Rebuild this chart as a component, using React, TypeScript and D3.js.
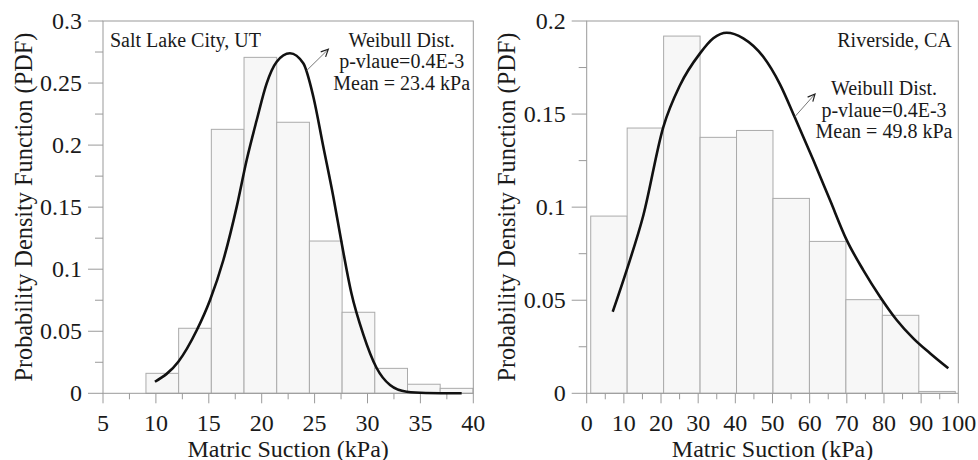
import React from "react";
import * as d3 from "d3";

// ---------- Data ----------
// Left: Salt Lake City, UT
const slcBinEdges = [9.06, 12.15, 15.24, 18.33, 21.42, 24.51, 27.6, 30.69, 33.78, 36.87, 39.96];
const slcDensity = [0.0161, 0.0524, 0.2127, 0.2707, 0.2184, 0.1227, 0.0653, 0.0201, 0.0073, 0.004];
const slcCurveX = [9.91, 12.12, 13.86, 15.11, 16.37, 17.64, 18.58, 19.53, 20.47, 21.42, 22.67, 23.93, 24.88, 25.82, 26.77, 27.56, 28.48, 29.6, 30.85, 32.13, 33.7, 35.5, 38.9];
const slcCurveY = [0.0093, 0.0254, 0.0508, 0.075, 0.1072, 0.1504, 0.188, 0.2202, 0.2498, 0.2672, 0.274, 0.2659, 0.239, 0.1988, 0.1584, 0.1209, 0.0806, 0.0475, 0.0206, 0.0067, 0.0013, 0.0003, 0.0];
const slcXTicks = [5, 10, 15, 20, 25, 30, 35, 40];
const slcXMinor = [7.5, 12.5, 17.5, 22.5, 27.5, 32.5, 37.5];
const slcYTicks = [0, 0.05, 0.1, 0.15, 0.2, 0.25, 0.3];
const slcYLabels = ["0", "0.05", "0.1", "0.15", "0.2", "0.25", "0.3"];
const slcYMinor = [0.025, 0.075, 0.125, 0.175, 0.225, 0.275];
const slcNotes = ["Weibull Dist.", "p-vlaue=0.4E-3", "Mean = 23.4 kPa"];

// Right: Riverside, CA
const rivBinEdges = [1.08, 10.89, 20.7, 30.51, 40.32, 50.13, 59.94, 69.75, 79.56, 89.37, 99.18];
const rivDensity = [0.0952, 0.1425, 0.1919, 0.1375, 0.1412, 0.1047, 0.0816, 0.0503, 0.0419, 0.001];
const rivCurveX = [7.0, 10.76, 15.23, 20.61, 25.11, 30.49, 34.07, 37.67, 42.14, 47.52, 52.02, 56.05, 60.98, 65.47, 69.97, 74.43, 78.93, 83.42, 87.89, 92.38, 97.31];
const rivCurveY = [0.0438, 0.0662, 0.0955, 0.143, 0.1655, 0.1826, 0.1907, 0.1937, 0.1907, 0.1808, 0.166, 0.148, 0.1253, 0.1038, 0.0823, 0.0662, 0.0519, 0.0394, 0.0295, 0.0215, 0.0134];
const rivXTicks = [0, 10, 20, 30, 40, 50, 60, 70, 80, 90, 100];
const rivXMinor = [5, 15, 25, 35, 45, 55, 65, 75, 85, 95];
const rivYTicks = [0, 0.05, 0.1, 0.15, 0.2];
const rivYLabels = ["0", "0.05", "0.1", "0.15", "0.2"];
const rivYMinor = [0.025, 0.075, 0.125, 0.175];
const rivNotes = ["Weibull Dist.", "p-vlaue=0.4E-3", "Mean = 49.8 kPa"];

const xTitle = "Matric Suction (kPa)";
const yTitle = "Probability Density Function (PDF)";

const FONT = "Liberation Serif";
const AXIS = "#9a9a9a";
const TXT = "#1a1a1a";

type PanelProps = {
  left: number; right: number; top: number; bottom: number;
  xDomain: [number, number]; yDomain: [number, number];
  edges: number[]; dens: number[]; cx: number[]; cy: number[];
  xTicks: number[]; xMinor: number[]; yTicks: number[]; yLabels: string[]; yMinor: number[];
  yTitleX: number;
  place: string; placeX: number; placeAnchor: string;
  notes: string[]; notesX: number; notesY: number;
  arrow: [number, number, number, number];
};

function Panel(p: PanelProps) {
  const x = d3.scaleLinear().domain(p.xDomain).range([p.left, p.right]);
  const y = d3.scaleLinear().domain(p.yDomain).range([p.bottom, p.top]);
  const pts = p.cx.map((v, i) => [v, p.cy[i]] as [number, number]);
  const line = d3.line<[number, number]>()
    .x((d) => x(d[0]))
    .y((d) => y(d[1]))
    .curve(d3.curveMonotoneX);
  const [ax1, ay1, ax2, ay2] = p.arrow;
  const ang = Math.atan2(ay2 - ay1, ax2 - ax1);
  const hl = 8;
  const h1 = [ax2 - hl * Math.cos(ang - 0.45), ay2 - hl * Math.sin(ang - 0.45)];
  const h2 = [ax2 - hl * Math.cos(ang + 0.45), ay2 - hl * Math.sin(ang + 0.45)];
  return (
    <g>
      {p.dens.map((d, i) => (
        <rect key={i}
          x={x(p.edges[i])} y={y(d)}
          width={x(p.edges[i + 1]) - x(p.edges[i])}
          height={y(0) - y(d)}
          fill="#f7f7f7" stroke="#ababab" strokeWidth={1} />
      ))}
      <rect x={p.left} y={p.top} width={p.right - p.left} height={p.bottom - p.top}
        fill="none" stroke={AXIS} strokeWidth={1} />
      {p.yTicks.map((t, i) => (
        <g key={"y" + i}>
          <line x1={p.left - 15} x2={p.left} y1={y(t)} y2={y(t)} stroke={AXIS} />
          <text x={p.left - 21} y={y(t)} dy="0.34em" textAnchor="end"
            fontSize={24} fontFamily={FONT} fill={TXT}>{p.yLabels[i]}</text>
        </g>
      ))}
      {p.yMinor.map((t, i) => (
        <line key={"ym" + i} x1={p.left - 8} x2={p.left} y1={y(t)} y2={y(t)} stroke={AXIS} />
      ))}
      {p.xTicks.map((t, i) => (
        <g key={"x" + i}>
          <line x1={x(t)} x2={x(t)} y1={p.bottom} y2={p.bottom + 10} stroke={AXIS} />
          <text x={x(t)} y={p.bottom + 37.5} textAnchor="middle"
            fontSize={24} fontFamily={FONT} fill={TXT}>{t}</text>
        </g>
      ))}
      {p.xMinor.map((t, i) => (
        <line key={"xm" + i} x1={x(t)} x2={x(t)} y1={p.bottom} y2={p.bottom + 6} stroke={AXIS} />
      ))}
      <path d={line(pts) || ""} fill="none" stroke="#111" strokeWidth={2.6} />
      <text x={(p.left + p.right) / 2} y={456.5} textAnchor="middle"
        fontSize={24} fontFamily={FONT} fill={TXT}>{xTitle}</text>
      <text transform={`translate(${p.yTitleX},${(p.top + p.bottom) / 2}) rotate(-90)`}
        textAnchor="middle" fontSize={24.3} fontFamily={FONT} fill={TXT}>{yTitle}</text>
      <text x={p.placeX} y={46.5} textAnchor={p.placeAnchor as any}
        fontSize={20} fontFamily={FONT} fill={TXT}>{p.place}</text>
      {p.notes.map((n, i) => (
        <text key={"n" + i} x={p.notesX} y={p.notesY + i * 21.7} textAnchor="middle"
          fontSize={20} fontFamily={FONT} fill={TXT}>{n}</text>
      ))}
      <line x1={ax1} y1={ay1} x2={ax2} y2={ay2} stroke="#777" strokeWidth={1} />
      <polyline points={`${h1[0]},${h1[1]} ${ax2},${ay2} ${h2[0]},${h2[1]}`}
        fill="none" stroke="#222" strokeWidth={1.2} />
    </g>
  );
}

export default function App() {
  return (
    <svg width={978} height={460} style={{ position: "absolute", left: 0, top: 0, background: "#fff" }}>
      <Panel left={103} right={473.3} top={21} bottom={393.3}
        xDomain={[5, 40]} yDomain={[0, 0.3]}
        edges={slcBinEdges} dens={slcDensity} cx={slcCurveX} cy={slcCurveY}
        xTicks={slcXTicks} xMinor={slcXMinor} yTicks={slcYTicks} yLabels={slcYLabels} yMinor={slcYMinor}
        yTitleX={32}
        place="Salt Lake City, UT" placeX={110} placeAnchor="start"
        notes={slcNotes} notesX={401.7} notesY={46.7}
        arrow={[306.7, 70.5, 328.3, 49.3]} />
      <Panel left={586.7} right={958.3} top={21} bottom={393.3}
        xDomain={[0, 100]} yDomain={[0, 0.2]}
        edges={rivBinEdges} dens={rivDensity} cx={rivCurveX} cy={rivCurveY}
        xTicks={rivXTicks} xMinor={rivXMinor} yTicks={rivYTicks} yLabels={rivYLabels} yMinor={rivYMinor}
        yTitleX={515}
        place="Riverside, CA" placeX={951.7} placeAnchor="end"
        notes={rivNotes} notesX={884} notesY={95}
        arrow={[795, 116.5, 815, 94]} />
    </svg>
  );
}
